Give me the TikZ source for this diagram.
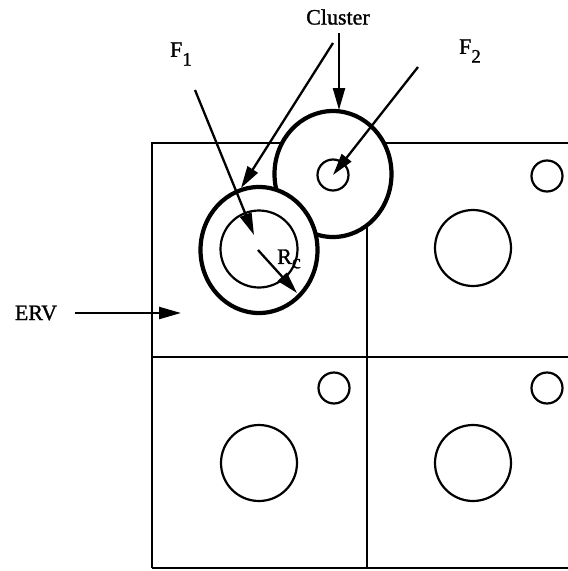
\documentclass[tikz,border=0pt]{standalone}
\usepackage{fontspec}
\setmainfont[FakeBold=1.2]{Liberation Serif}
\usetikzlibrary{arrows.meta,shapes.geometric}
\begin{document}
\begin{tikzpicture}[x=1pt,y=-1pt,
  gridline/.style={line width=2pt},
  hole/.style={draw, circle, line width=2.2pt, inner sep=0pt},
  ring/.style={draw, ellipse, line width=4.2pt, fill=white, inner sep=0pt,
               minimum width=117pt, minimum height=126pt},
  pointer/.style={line width=2.3pt, -{Triangle[length=22pt,width=12pt]}},
  lbl/.style={font=\fontsize{22}{24}\selectfont, inner sep=0pt}]
\useasboundingbox (0,0) rectangle (568,571);
% grid of cells
\draw[gridline] (152,568) -- (152,143) -- (568,143);
\draw[gridline] (152,357) -- (568,357);
\draw[gridline] (152,568) -- (568,568);
\draw[gridline] (367,143) -- (367,568);
% circles in the cells
\node[hole, minimum size=76pt] (b2) at (473,248) {};
\node[hole, minimum size=31pt] (s2) at (547,176) {};
\node[hole, minimum size=76pt] (b3) at (259,463) {};
\node[hole, minimum size=31pt] (s3) at (334,388) {};
\node[hole, minimum size=76pt] (b4) at (473,463) {};
\node[hole, minimum size=31pt] (s4) at (547,388) {};
% clusters
\node[ring] (c2) at (333,174) {};
\node[hole, minimum size=31pt] (s1) at (333,175) {};
\node[ring] (c1) at (259,250) {};
\node[hole, minimum size=77pt] (b1) at (259,249) {};
% labels
\node[lbl] (erv) at (36,313) {ERV};
\node[lbl] (f1) at (181,54) {F\raisebox{-0.4em}{\fontsize{19}{19}\selectfont 1}};
\node[lbl] (f2) at (470,51) {F\raisebox{-0.4em}{\fontsize{19}{19}\selectfont 2}};
\node[lbl] (cl) at (338,17) {Cluster};
\node[lbl] (rc) at (289,259) {R\raisebox{-0.2em}{\fontsize{20}{20}\selectfont c}};
% arrow ends
\coordinate (ervA) at (75,313);   \coordinate (ervB) at (181,313);
\coordinate (f1A) at (195,90);    \coordinate (f1B) at (254,235);
\coordinate (clA) at (333,43);    \coordinate (clB) at (241,188);
\coordinate (clC) at (339,33);    \coordinate (clD) at (339,110);
\coordinate (f2A) at (418,67);    \coordinate (f2B) at (333,175);
\coordinate (rcA) at (258,250);   \coordinate (rcB) at (297,293);
% arrows
\draw[pointer] (ervA) -- (ervB);
\draw[pointer] (f1A) -- (f1B);
\draw[pointer] (clA) -- (clB);
\draw[pointer] (clC) -- (clD);
\draw[pointer] (f2A) -- (f2B);
\draw[pointer] (rcA) -- (rcB);
\end{tikzpicture}
\end{document}
